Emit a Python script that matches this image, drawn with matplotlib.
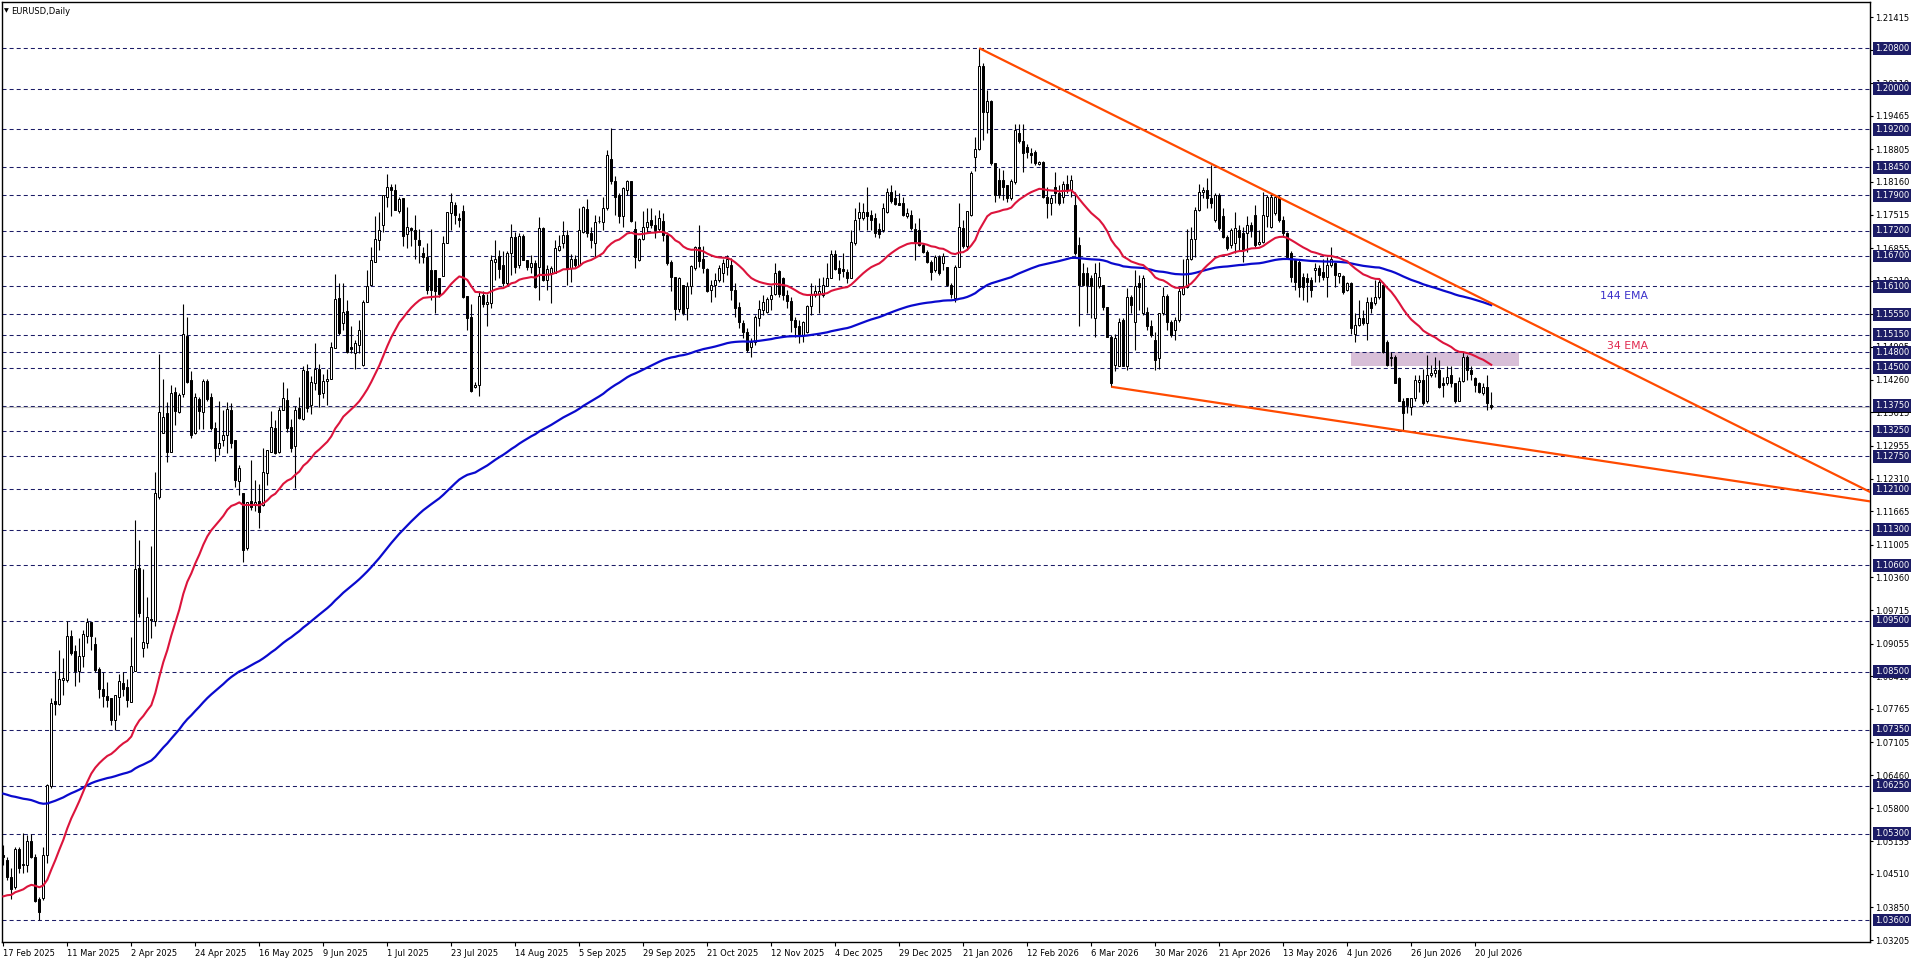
import numpy as np
import pandas as pd
import matplotlib
matplotlib.use('Agg')
import matplotlib.pyplot as plt
from matplotlib.patches import Rectangle
import matplotlib.transforms as mtransforms

plt.rcParams['font.family'] = ['DejaVu Sans']
plt.rcParams['lines.scale_dashes'] = False

# ---------------- data (EURUSD daily) ----------------
opens = [
1.0488,1.0478,1.0445,1.0426,1.0501,1.0468,1.0468,1.0516,1.0485,1.0401,
1.0403,1.0488,1.0624,1.0792,1.0787,1.0833,1.0833,1.0920,1.0891,1.0852,
1.0880,1.0920,1.0948,1.0904,1.0855,1.0816,1.0802,1.0797,1.0755,1.0799,
1.0828,1.0820,1.0791,1.0851,1.1054,1.0896,1.0906,1.0954,1.0950,1.1195,
1.1320,1.1361,1.1284,1.1401,1.1363,1.1397,1.1512,1.1425,1.1320,1.1388,
1.1363,1.1423,1.1391,1.1330,1.1291,1.1306,1.1316,1.1367,1.1307,1.1227,
1.1202,1.1093,1.1187,1.1179,1.1187,1.1179,1.1241,1.1284,1.1330,1.1283,
1.1366,1.1386,1.1333,1.1296,1.1371,1.1348,1.1443,1.1376,1.1419,1.1447,
1.1399,1.1424,1.1427,1.1488,1.1587,1.1537,1.1562,1.1490,1.1478,1.1494,
1.1455,1.1580,1.1613,1.1659,1.1702,1.1731,1.1787,1.1807,1.1800,1.1759,
1.1784,1.1713,1.1725,1.1721,1.1702,1.1675,1.1669,1.1642,1.1642,1.1626,
1.1631,1.1696,1.1754,1.1771,1.1744,1.1758,1.1591,1.1549,1.1411,1.1415,
1.1593,1.1575,1.1577,1.1659,1.1670,1.1652,1.1616,1.1675,1.1708,1.1652,
1.1709,1.1663,1.1649,1.1656,1.1649,1.1725,1.1623,1.1636,1.1636,1.1682,
1.1695,1.1711,1.1646,1.1665,1.1652,1.1718,1.1762,1.1716,1.1696,1.1739,
1.1738,1.1764,1.1861,1.1817,1.1790,1.1748,1.1801,1.1818,1.1723,1.1662,
1.1703,1.1728,1.1741,1.1731,1.1723,1.1740,1.1712,1.1658,1.1629,1.1565,
1.1613,1.1567,1.1611,1.1646,1.1688,1.1664,1.1644,1.1602,1.1613,1.1623,
1.1636,1.1649,1.1652,1.1603,1.1570,1.1537,1.1521,1.1491,1.1501,1.1547,
1.1564,1.1560,1.1585,1.1596,1.1641,1.1626,1.1593,1.1582,1.1543,1.1531,
1.1514,1.1521,1.1571,1.1593,1.1595,1.1593,1.1610,1.1626,1.1674,1.1646,
1.1644,1.1639,1.1626,1.1695,1.1744,1.1744,1.1757,1.1751,1.1744,1.1723,
1.1721,1.1757,1.1797,1.1784,1.1774,1.1774,1.1749,1.1751,1.1723,1.1721,
1.1692,1.1677,1.1659,1.1642,1.1669,1.1656,1.1648,1.1613,1.1587,1.1649,
1.1725,1.1689,1.1751,1.1866,1.1881,1.2044,1.1955,1.1975,1.1853,1.1820,
1.1820,1.1810,1.1784,1.1815,1.1913,1.1896,1.1886,1.1873,1.1876,1.1852,
1.1856,1.1787,1.1774,1.1807,1.1794,1.1787,1.1812,1.1800,1.1771,1.1692,
1.1637,1.1636,1.1626,1.1547,1.1610,1.1613,1.1570,1.1511,1.1454,1.1452,
1.1544,1.1452,1.1590,1.1540,1.1616,1.1557,1.1560,1.1531,1.1504,1.1468,
1.1557,1.1592,1.1540,1.1524,1.1544,1.1596,1.1609,1.1665,1.1703,1.1761,
1.1797,1.1801,1.1784,1.1741,1.1790,1.1748,1.1707,1.1692,1.1695,1.1721,
1.1715,1.1715,1.1731,1.1751,1.1694,1.1698,1.1748,1.1728,1.1754,1.1787,
1.1741,1.1715,1.1675,1.1662,1.1659,1.1629,1.1626,1.1623,1.1642,1.1646,
1.1639,1.1629,1.1652,1.1656,1.1630,1.1630,1.1603,1.1616,1.1517,1.1534,
1.1547,1.1537,1.1580,1.1577,1.1590,1.1613,1.1501,1.1468,1.1471,1.1429,
1.1383,1.1389,1.1373,1.1389,1.1422,1.1425,1.1383,1.1435,1.1440,1.1445,
1.1419,1.1419,1.1435,1.1419,1.1383,1.1424,1.1471,1.1445,1.1429,1.1419,
1.1399,1.1412,1.1376]

highs = [
1.0508,1.0485,1.0462,1.0505,1.0505,1.0531,1.0528,1.0530,1.0491,1.0406,
1.0505,1.0629,1.0797,1.0852,1.0893,1.0876,1.0949,1.0933,1.0903,1.0916,
1.0932,1.0955,1.0948,1.0919,1.0860,1.0850,1.0830,1.0798,1.0804,1.0845,
1.0850,1.0835,1.0919,1.1149,1.1110,1.1052,1.0998,1.1098,1.1243,1.1477,
1.1427,1.1381,1.1415,1.1412,1.1400,1.1575,1.1550,1.1443,1.1399,1.1392,
1.1427,1.1427,1.1400,1.1342,1.1384,1.1366,1.1382,1.1379,1.1307,1.1258,
1.1202,1.1185,1.1268,1.1229,1.1221,1.1291,1.1287,1.1364,1.1346,1.1373,
1.1421,1.1409,1.1348,1.1374,1.1392,1.1453,1.1457,1.1434,1.1498,1.1457,
1.1438,1.1448,1.1501,1.1634,1.1616,1.1616,1.1583,1.1531,1.1504,1.1544,
1.1583,1.1643,1.1688,1.1748,1.1757,1.1790,1.1832,1.1813,1.1813,1.1787,
1.1784,1.1767,1.1728,1.1751,1.1723,1.1688,1.1695,1.1723,1.1643,1.1626,
1.1709,1.1757,1.1794,1.1777,1.1754,1.1771,1.1591,1.1575,1.1422,1.1600,
1.1600,1.1596,1.1672,1.1702,1.1682,1.1679,1.1679,1.1733,1.1718,1.1715,
1.1713,1.1663,1.1672,1.1662,1.1746,1.1728,1.1652,1.1650,1.1702,1.1712,
1.1739,1.1721,1.1674,1.1672,1.1764,1.1769,1.1782,1.1728,1.1751,1.1748,
1.1787,1.1880,1.1923,1.1827,1.1794,1.1806,1.1820,1.1818,1.1740,1.1705,
1.1758,1.1764,1.1764,1.1751,1.1761,1.1755,1.1718,1.1662,1.1629,1.1629,
1.1613,1.1619,1.1652,1.1690,1.1731,1.1689,1.1646,1.1623,1.1636,1.1652,
1.1664,1.1672,1.1666,1.1616,1.1580,1.1544,1.1527,1.1508,1.1554,1.1583,
1.1593,1.1590,1.1610,1.1656,1.1642,1.1629,1.1603,1.1590,1.1550,1.1544,
1.1541,1.1573,1.1616,1.1613,1.1626,1.1629,1.1656,1.1682,1.1682,1.1662,
1.1675,1.1644,1.1721,1.1764,1.1777,1.1774,1.1807,1.1761,1.1754,1.1735,
1.1774,1.1804,1.1810,1.1800,1.1794,1.1787,1.1764,1.1761,1.1735,1.1744,
1.1695,1.1682,1.1662,1.1672,1.1672,1.1675,1.1649,1.1616,1.1652,1.1774,
1.1741,1.1758,1.1837,1.1905,1.2080,1.2050,1.1998,1.1978,1.1854,1.1843,
1.1840,1.1810,1.1821,1.1931,1.1931,1.1931,1.1890,1.1883,1.1879,1.1857,
1.1858,1.1807,1.1790,1.1836,1.1810,1.1817,1.1830,1.1830,1.1797,1.1708,
1.1656,1.1649,1.1633,1.1656,1.1659,1.1613,1.1570,1.1514,1.1517,1.1547,
1.1547,1.1606,1.1593,1.1642,1.1632,1.1632,1.1570,1.1544,1.1521,1.1557,
1.1609,1.1596,1.1544,1.1550,1.1609,1.1665,1.1723,1.1728,1.1767,1.1813,
1.1806,1.1823,1.1850,1.1794,1.1794,1.1764,1.1711,1.1725,1.1757,1.1731,
1.1728,1.1748,1.1738,1.1771,1.1721,1.1797,1.1790,1.1794,1.1790,1.1790,
1.1748,1.1718,1.1679,1.1665,1.1662,1.1636,1.1636,1.1629,1.1656,1.1652,
1.1665,1.1669,1.1688,1.1659,1.1636,1.1632,1.1619,1.1619,1.1557,1.1583,
1.1563,1.1590,1.1590,1.1623,1.1626,1.1619,1.1504,1.1481,1.1475,1.1432,
1.1389,1.1389,1.1389,1.1435,1.1435,1.1448,1.1475,1.1455,1.1471,1.1465,
1.1432,1.1452,1.1452,1.1419,1.1432,1.1481,1.1475,1.1452,1.1432,1.1422,
1.1419,1.1435,1.1402]

lows = [
1.0468,1.0439,1.0401,1.0422,1.0452,1.0452,1.0455,1.0482,1.0396,1.0360,
1.0400,1.0472,1.0620,1.0764,1.0784,1.0804,1.0830,1.0883,1.0822,1.0830,
1.0860,1.0906,1.0893,1.0850,1.0797,1.0781,1.0781,1.0745,1.0735,1.0764,
1.0801,1.0781,1.0791,1.0851,1.0958,1.0878,1.0896,1.0916,1.0941,1.1190,
1.1320,1.1264,1.1283,1.1337,1.1361,1.1392,1.1419,1.1310,1.1319,1.1328,
1.1328,1.1383,1.1327,1.1266,1.1277,1.1295,1.1281,1.1291,1.1215,1.1199,
1.1067,1.1089,1.1169,1.1166,1.1133,1.1177,1.1218,1.1283,1.1279,1.1281,
1.1366,1.1323,1.1284,1.1212,1.1348,1.1347,1.1363,1.1358,1.1406,1.1373,
1.1389,1.1376,1.1427,1.1488,1.1515,1.1524,1.1478,1.1478,1.1448,1.1478,
1.1452,1.1580,1.1613,1.1659,1.1682,1.1718,1.1767,1.1748,1.1761,1.1754,
1.1689,1.1685,1.1689,1.1665,1.1656,1.1656,1.1596,1.1583,1.1557,1.1590,
1.1631,1.1695,1.1721,1.1734,1.1728,1.1587,1.1524,1.1402,1.1409,1.1393,
1.1570,1.1531,1.1567,1.1623,1.1626,1.1610,1.1613,1.1633,1.1636,1.1646,
1.1662,1.1642,1.1636,1.1606,1.1583,1.1620,1.1603,1.1577,1.1636,1.1679,
1.1685,1.1613,1.1619,1.1649,1.1652,1.1715,1.1708,1.1685,1.1669,1.1735,
1.1721,1.1761,1.1813,1.1751,1.1735,1.1728,1.1790,1.1738,1.1646,1.1660,
1.1702,1.1718,1.1725,1.1705,1.1718,1.1700,1.1652,1.1600,1.1544,1.1560,
1.1554,1.1544,1.1596,1.1643,1.1649,1.1636,1.1598,1.1580,1.1590,1.1619,
1.1619,1.1633,1.1583,1.1550,1.1527,1.1508,1.1481,1.1471,1.1494,1.1531,
1.1554,1.1557,1.1564,1.1593,1.1590,1.1583,1.1567,1.1521,1.1511,1.1498,
1.1501,1.1518,1.1554,1.1590,1.1557,1.1590,1.1610,1.1626,1.1642,1.1623,
1.1629,1.1616,1.1626,1.1692,1.1721,1.1741,1.1721,1.1721,1.1708,1.1705,
1.1718,1.1755,1.1774,1.1771,1.1771,1.1748,1.1744,1.1721,1.1662,1.1689,
1.1675,1.1656,1.1623,1.1639,1.1633,1.1643,1.1610,1.1587,1.1580,1.1649,
1.1685,1.1682,1.1748,1.1837,1.1879,1.1899,1.1912,1.1850,1.1777,1.1784,
1.1781,1.1777,1.1781,1.1813,1.1892,1.1836,1.1863,1.1853,1.1850,1.1850,
1.1784,1.1744,1.1751,1.1774,1.1771,1.1774,1.1794,1.1787,1.1672,1.1531,
1.1610,1.1557,1.1547,1.1511,1.1606,1.1564,1.1511,1.1412,1.1444,1.1452,
1.1452,1.1445,1.1557,1.1485,1.1563,1.1554,1.1524,1.1511,1.1445,1.1448,
1.1554,1.1524,1.1511,1.1504,1.1540,1.1593,1.1606,1.1662,1.1669,1.1758,
1.1784,1.1764,1.1764,1.1738,1.1721,1.1705,1.1682,1.1685,1.1675,1.1682,
1.1659,1.1678,1.1708,1.1688,1.1692,1.1695,1.1728,1.1725,1.1751,1.1738,
1.1708,1.1665,1.1619,1.1603,1.1590,1.1583,1.1580,1.1590,1.1619,1.1619,
1.1623,1.1590,1.1649,1.1609,1.1616,1.1596,1.1600,1.1517,1.1501,1.1531,
1.1534,1.1504,1.1557,1.1573,1.1586,1.1478,1.1452,1.1452,1.1419,1.1383,
1.1327,1.1360,1.1356,1.1383,1.1402,1.1376,1.1379,1.1432,1.1432,1.1409,
1.1392,1.1415,1.1412,1.1379,1.1383,1.1422,1.1425,1.1425,1.1402,1.1399,
1.1396,1.1366,1.1369]

closes = [
1.0484,1.0445,1.0422,1.0501,1.0462,1.0470,1.0516,1.0485,1.0398,1.0375,
1.0488,1.0626,1.0789,1.0786,1.0835,1.0838,1.0920,1.0887,1.0852,1.0880,
1.0924,1.0947,1.0920,1.0853,1.0816,1.0801,1.0794,1.0755,1.0804,1.0831,
1.0815,1.0794,1.0861,1.1052,1.0965,1.0909,1.0958,1.0951,1.1203,1.1362,
1.1352,1.1283,1.1399,1.1365,1.1396,1.1516,1.1421,1.1316,1.1391,1.1365,
1.1423,1.1387,1.1330,1.1291,1.1302,1.1316,1.1369,1.1302,1.1229,1.1251,
1.1090,1.1185,1.1174,1.1185,1.1164,1.1243,1.1287,1.1332,1.1281,1.1366,
1.1389,1.1330,1.1292,1.1367,1.1350,1.1445,1.1371,1.1421,1.1447,1.1397,
1.1423,1.1427,1.1490,1.1586,1.1518,1.1560,1.1481,1.1486,1.1498,1.1524,
1.1580,1.1610,1.1662,1.1703,1.1721,1.1790,1.1807,1.1800,1.1761,1.1782,
1.1710,1.1727,1.1721,1.1703,1.1692,1.1669,1.1603,1.1603,1.1600,1.1596,
1.1696,1.1757,1.1777,1.1751,1.1741,1.1590,1.1547,1.1404,1.1415,1.1591,
1.1575,1.1580,1.1662,1.1665,1.1644,1.1616,1.1675,1.1708,1.1649,1.1709,
1.1663,1.1649,1.1656,1.1609,1.1725,1.1623,1.1644,1.1646,1.1685,1.1689,
1.1711,1.1646,1.1664,1.1652,1.1721,1.1767,1.1715,1.1702,1.1738,1.1740,
1.1764,1.1869,1.1817,1.1787,1.1748,1.1804,1.1817,1.1740,1.1669,1.1703,
1.1728,1.1738,1.1731,1.1721,1.1744,1.1712,1.1657,1.1629,1.1565,1.1626,
1.1557,1.1611,1.1650,1.1688,1.1660,1.1646,1.1600,1.1613,1.1623,1.1646,
1.1656,1.1664,1.1603,1.1567,1.1539,1.1521,1.1485,1.1501,1.1550,1.1565,
1.1580,1.1585,1.1594,1.1636,1.1596,1.1594,1.1582,1.1543,1.1529,1.1516,
1.1539,1.1571,1.1596,1.1600,1.1600,1.1613,1.1626,1.1674,1.1644,1.1636,
1.1641,1.1626,1.1698,1.1741,1.1756,1.1757,1.1748,1.1741,1.1715,1.1713,
1.1764,1.1797,1.1779,1.1773,1.1771,1.1751,1.1754,1.1725,1.1695,1.1692,
1.1677,1.1659,1.1639,1.1669,1.1636,1.1670,1.1613,1.1596,1.1649,1.1728,
1.1689,1.1758,1.1833,1.1882,1.2044,1.1955,1.1975,1.1853,1.1790,1.1790,
1.1807,1.1784,1.1817,1.1919,1.1896,1.1874,1.1876,1.1869,1.1853,1.1856,
1.1787,1.1774,1.1784,1.1794,1.1775,1.1813,1.1800,1.1820,1.1675,1.1613,
1.1613,1.1613,1.1610,1.1637,1.1629,1.1570,1.1511,1.1419,1.1508,1.1540,
1.1452,1.1590,1.1573,1.1611,1.1608,1.1626,1.1531,1.1514,1.1465,1.1557,
1.1592,1.1540,1.1514,1.1544,1.1600,1.1611,1.1665,1.1703,1.1761,1.1797,
1.1801,1.1784,1.1774,1.1790,1.1725,1.1707,1.1685,1.1721,1.1725,1.1708,
1.1682,1.1731,1.1721,1.1692,1.1698,1.1751,1.1787,1.1787,1.1787,1.1741,
1.1715,1.1669,1.1629,1.1619,1.1609,1.1609,1.1619,1.1603,1.1646,1.1632,
1.1629,1.1652,1.1665,1.1632,1.1636,1.1599,1.1616,1.1527,1.1534,1.1547,
1.1537,1.1580,1.1567,1.1590,1.1619,1.1481,1.1455,1.1471,1.1419,1.1383,
1.1360,1.1376,1.1389,1.1425,1.1425,1.1379,1.1435,1.1440,1.1445,1.1412,
1.1415,1.1432,1.1419,1.1383,1.1424,1.1471,1.1445,1.1438,1.1415,1.1402,
1.1412,1.1379,1.1373]

# EMA values in force just before the first visible bar
ema34_prev = 1.0402
ema144_prev = 1.0611

date_tick_bars = [0, 16, 32, 48, 64, 80, 96, 112, 128, 144, 160, 176,
                  192, 208, 224, 240, 256, 272, 288, 304, 320, 336, 352, 368]
date_labels = ['17 Feb 2025', '11 Mar 2025', '2 Apr 2025', '24 Apr 2025',
               '16 May 2025', '9 Jun 2025', '1 Jul 2025', '23 Jul 2025',
               '14 Aug 2025', '5 Sep 2025', '29 Sep 2025', '21 Oct 2025',
               '12 Nov 2025', '4 Dec 2025', '29 Dec 2025', '21 Jan 2026',
               '12 Feb 2026', '6 Mar 2026', '30 Mar 2026', '21 Apr 2026',
               '13 May 2026', '4 Jun 2026', '26 Jun 2026', '20 Jul 2026']

price_ticks = [1.21415, 1.20760, 1.20110, 1.19465, 1.18805, 1.18160, 1.17515,
               1.16855, 1.16210, 1.15565, 1.14905, 1.14260, 1.13615, 1.12955,
               1.12310, 1.11665, 1.11005, 1.10360, 1.09715, 1.09055, 1.08410,
               1.07765, 1.07105, 1.06460, 1.05800, 1.05155, 1.04510, 1.03850,
               1.03205]

levels = [1.2080, 1.2000, 1.1920, 1.1845, 1.1790, 1.1720, 1.1670, 1.1610,
          1.1555, 1.1515, 1.1480, 1.1450, 1.1375, 1.1325, 1.1275, 1.1210,
          1.1130, 1.1060, 1.0950, 1.0850, 1.0735, 1.0625, 1.0530, 1.0360]

upper_trend = [(244, 1.2080), (302, 1.1852)]
lower_trend = [(277, 1.1412), (350, 1.1325)]

zone_bars = (337, 379)
zone_prices = (1.1453, 1.1481)

# ---------------- figure ----------------
W, H = 1916, 963
fig = plt.figure(figsize=(W / 100, H / 100), dpi=100)
fig.patch.set_facecolor('white')
ax = fig.add_axes([2 / W, 21 / H, 1868 / W, 940 / H])
ax.set_facecolor('white')

XMIN, XMAX = -0.33, 466.7
ax.set_xlim(XMIN, XMAX)
ax.set_ylim(1.03166, 1.21711)

n = len(closes)
x = np.arange(n)
o = np.array(opens); h = np.array(highs); l = np.array(lows); c = np.array(closes)

NAVY = '#1c1c66'

# zone rectangle
ax.add_patch(Rectangle((zone_bars[0], zone_prices[0]), zone_bars[1] - zone_bars[0],
                       zone_prices[1] - zone_prices[0], facecolor='#d8bfd8',
                       edgecolor='none', zorder=0.5))

# horizontal dashed levels
for lv in levels:
    ax.axhline(lv, color=NAVY, lw=0.75, linestyle=(0, (2.9, 2.2)), zorder=1)

# current price line
ax.axhline(closes[-1], color='#c0c0c0', lw=0.8, zorder=1.1)

# candles
ax.vlines(x, l, h, color='black', lw=0.8, zorder=2)
bottom = np.minimum(o, c)
height = np.maximum(np.abs(c - o), 0.00006)
face = ['white' if cc >= oo else 'black' for oo, cc in zip(o, c)]
ax.bar(x, height, bottom=bottom, width=0.5, color=face, edgecolor='black',
       linewidth=0.72, zorder=3)

# EMAs
ema34 = pd.Series([ema34_prev] + closes).ewm(span=34, adjust=False).mean().iloc[1:].values
ema144 = pd.Series([ema144_prev] + closes).ewm(span=144, adjust=False).mean().iloc[1:].values
ax.plot(x, ema144, color='#0a0acd', lw=1.6, zorder=4)
ax.plot(x, ema34, color='#dc143c', lw=1.5, zorder=4)

# trend lines (rays to the right)
for (x0, y0), (x1, y1) in (upper_trend, lower_trend):
    slope = (y1 - y0) / (x1 - x0)
    xe = XMAX + 10
    ax.plot([x0, xe], [y0, y0 + slope * (xe - x0)], color='#ff4a00', lw=1.6,
            zorder=5, solid_capstyle='butt')

# EMA labels
ax.text(399.2, 1.15911, '144 EMA', color='#3a2fc9', fontsize=7.8, va='center', ha='left', zorder=6)
ax.text(400.9, 1.14924, '34 EMA', color='#e0284f', fontsize=7.8, va='center', ha='left', zorder=6)

# axes styling
for sp in ax.spines.values():
    sp.set_color('black')
    sp.set_linewidth(1.0)

ax.yaxis.tick_right()
ax.set_yticks(price_ticks)
ax.set_yticklabels([f'{v:.5f}' for v in price_ticks])
ax.tick_params(axis='y', direction='out', length=2.2, width=0.8, labelsize=6,
               pad=1.5, colors='black')

ax.set_xticks(date_tick_bars)
ax.set_xticklabels(date_labels)
for t in ax.get_xticklabels():
    t.set_ha('left')
ax.tick_params(axis='x', direction='out', length=3, width=0.8, labelsize=6,
               pad=2, colors='black')

# price labels for the levels (boxes on the right scale)
trans = mtransforms.blended_transform_factory(ax.transAxes, ax.transData)
xlab = (1875 - 2) / 1868
ax.text(xlab, closes[-1], f'{closes[-1]:.5f}', transform=trans, color='white',
        fontsize=6, va='center', ha='left', clip_on=False, zorder=9,
        bbox=dict(boxstyle='square,pad=0.22', fc='black', ec='none'))
for lv in levels:
    ax.text(xlab, lv, f'{lv:.5f}', transform=trans, color='white', fontsize=6,
            va='center', ha='left', clip_on=False, zorder=10,
            bbox=dict(boxstyle='square,pad=0.22', fc=NAVY, ec='none'))

# title
fig.text(4 / W, 1 - 11 / H, '\u25bc', fontsize=4.5, va='center', ha='left', color='black')
fig.text(11 / W, 1 - 11 / H, 'EURUSD,Daily', fontsize=6, va='center', ha='left', color='black')

fig.savefig('out.png', dpi=100, facecolor='white')
